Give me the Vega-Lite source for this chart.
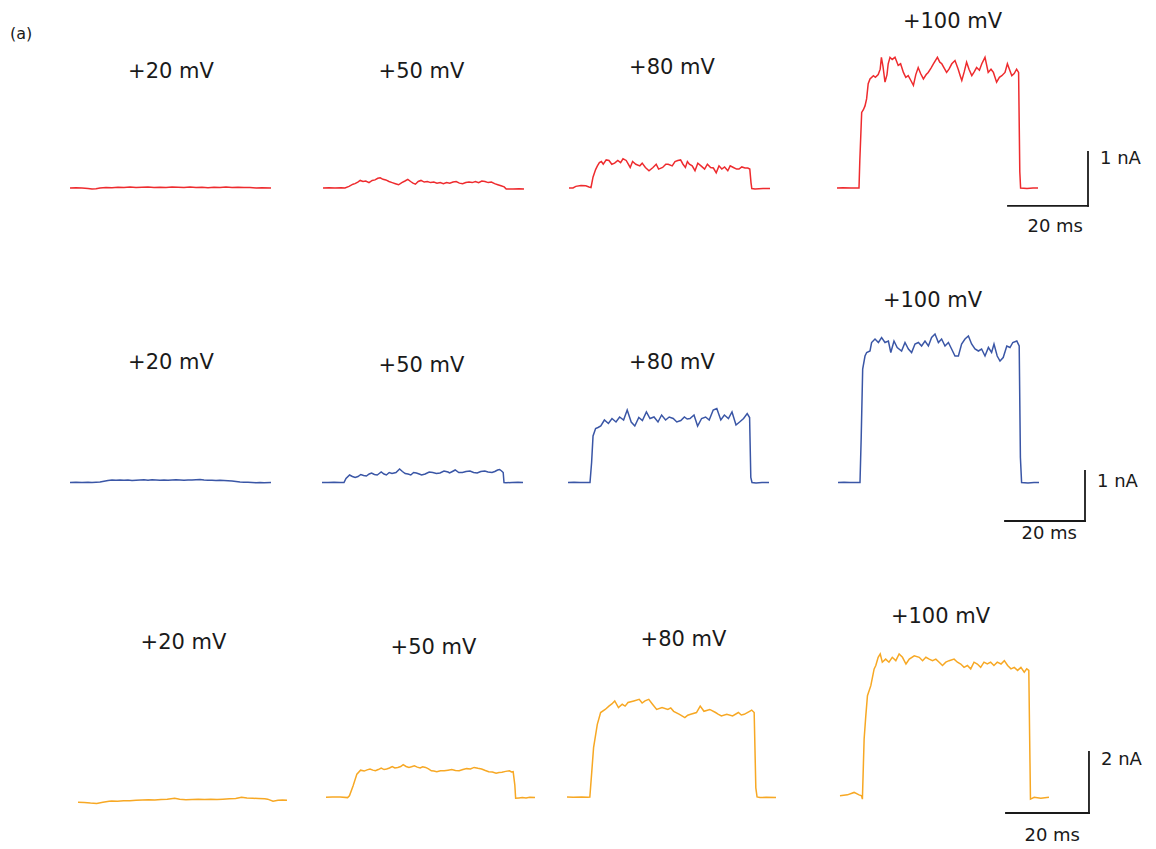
{
"$schema": "https://vega.github.io/schema/vega-lite/v6.json",
"background": "white",
"padding": {"left": 10, "top": 11, "right": 5, "bottom": 5},
"title": {"text": "(a)", "anchor": "start", "fontSize": 16, "font": "DejaVu Sans", "fontWeight": "normal", "color": "#1a1a1a", "dx": -40, "offset": -39, "baseline": "middle"},
"config": {"view": {"stroke": null}, "title": {"font": "DejaVu Sans", "fontSize": 21, "fontWeight": "normal", "color": "#1a1a1a", "baseline": "middle", "offset": 0}},
"datasets": {
"r1a": [{"t":-5.5,"i":0},{"t":-4,"i":0.005},{"t":-2.5,"i":0},{"t":-1,"i":-0.01},{"t":0,"i":-0.02},{"t":1,"i":-0.015},{"t":2,"i":0},{"t":3.5,"i":0.01},{"t":5,"i":0.005},{"t":6.5,"i":0.015},{"t":8,"i":0.01},{"t":9.5,"i":0.02},{"t":11,"i":0.01},{"t":12.5,"i":0.015},{"t":14,"i":0.02},{"t":15.5,"i":0.01},{"t":17,"i":0.015},{"t":18.5,"i":0.01},{"t":20,"i":0.02},{"t":21.5,"i":0.015},{"t":23,"i":0.01},{"t":24.5,"i":0.02},{"t":26,"i":0.01},{"t":27.5,"i":0.015},{"t":29,"i":0.005},{"t":30.5,"i":0.015},{"t":32,"i":0.01},{"t":33.5,"i":0.02},{"t":35,"i":0.01},{"t":36.5,"i":0.015},{"t":38,"i":0.01},{"t":39.5,"i":0.01},{"t":41,"i":0},{"t":42.5,"i":0.005},{"t":44.75,"i":0}],
"r1b": [{"t":-5.5,"i":0},{"t":-4,"i":0.005},{"t":-2.5,"i":0},{"t":-1,"i":0.005},{"t":0,"i":0},{"t":1,"i":0.03},{"t":2,"i":0.07},{"t":2.5,"i":0.08},{"t":3.2,"i":0.11},{"t":3.8,"i":0.14},{"t":4.5,"i":0.12},{"t":5.2,"i":0.13},{"t":6,"i":0.1},{"t":6.8,"i":0.14},{"t":7.5,"i":0.15},{"t":8.2,"i":0.18},{"t":8.8,"i":0.19},{"t":9.5,"i":0.16},{"t":10.2,"i":0.15},{"t":11,"i":0.12},{"t":11.8,"i":0.1},{"t":12.6,"i":0.08},{"t":13.4,"i":0.06},{"t":14.2,"i":0.1},{"t":15,"i":0.13},{"t":15.7,"i":0.16},{"t":16.4,"i":0.12},{"t":17,"i":0.09},{"t":17.6,"i":0.07},{"t":18.3,"i":0.12},{"t":19,"i":0.14},{"t":19.8,"i":0.11},{"t":20.6,"i":0.12},{"t":21.4,"i":0.1},{"t":22.2,"i":0.11},{"t":23,"i":0.09},{"t":23.8,"i":0.1},{"t":24.6,"i":0.08},{"t":25.4,"i":0.1},{"t":26.2,"i":0.09},{"t":27,"i":0.11},{"t":27.8,"i":0.12},{"t":28.6,"i":0.09},{"t":29.4,"i":0.08},{"t":30.2,"i":0.1},{"t":31,"i":0.11},{"t":31.8,"i":0.1},{"t":32.6,"i":0.12},{"t":33.4,"i":0.1},{"t":34.2,"i":0.13},{"t":35,"i":0.12},{"t":35.8,"i":0.1},{"t":36.6,"i":0.11},{"t":37.4,"i":0.08},{"t":38.2,"i":0.06},{"t":39,"i":0.04},{"t":39.8,"i":0.02},{"t":40.3,"i":-0.02},{"t":42,"i":-0.02},{"t":43.5,"i":-0.015},{"t":44.75,"i":-0.02}],
"r1c": [{"t":-5.5,"i":0},{"t":-4.5,"i":0},{"t":-3.8,"i":0.03},{"t":-2.5,"i":0.045},{"t":-1.3,"i":0.04},{"t":-0.5,"i":0.02},{"t":0,"i":0.01},{"t":0.5,"i":0.2},{"t":1.15,"i":0.34},{"t":1.6,"i":0.41},{"t":2.1,"i":0.47},{"t":2.6,"i":0.49},{"t":3.06,"i":0.44},{"t":3.8,"i":0.52},{"t":4.5,"i":0.51},{"t":5.2,"i":0.44},{"t":5.9,"i":0.46},{"t":6.7,"i":0.51},{"t":7.4,"i":0.47},{"t":8,"i":0.54},{"t":8.8,"i":0.51},{"t":9.8,"i":0.38},{"t":10.4,"i":0.49},{"t":11.2,"i":0.44},{"t":12.2,"i":0.41},{"t":12.8,"i":0.46},{"t":13.6,"i":0.38},{"t":14.5,"i":0.32},{"t":15.5,"i":0.38},{"t":16.3,"i":0.44},{"t":16.9,"i":0.35},{"t":17.9,"i":0.38},{"t":18.7,"i":0.44},{"t":19.3,"i":0.44},{"t":20.3,"i":0.41},{"t":21,"i":0.49},{"t":21.7,"i":0.51},{"t":22.4,"i":0.52},{"t":23,"i":0.44},{"t":23.6,"i":0.38},{"t":24.1,"i":0.49},{"t":24.6,"i":0.44},{"t":25.3,"i":0.41},{"t":26,"i":0.32},{"t":26.7,"i":0.46},{"t":27.5,"i":0.41},{"t":28.4,"i":0.35},{"t":29.1,"i":0.44},{"t":29.9,"i":0.38},{"t":30.6,"i":0.37},{"t":31.3,"i":0.28},{"t":32,"i":0.41},{"t":32.7,"i":0.35},{"t":33.4,"i":0.39},{"t":34.2,"i":0.32},{"t":34.8,"i":0.41},{"t":35.6,"i":0.38},{"t":36.4,"i":0.35},{"t":37,"i":0.35},{"t":37.7,"i":0.39},{"t":38.5,"i":0.37},{"t":39.2,"i":0.37},{"t":39.7,"i":0.35},{"t":40,"i":0.1},{"t":40.2,"i":-0.01},{"t":41,"i":-0.02},{"t":42,"i":-0.015},{"t":43,"i":-0.01},{"t":44.75,"i":-0.01}],
"r1d": [{"t":-5.5,"i":0},{"t":-4,"i":0.005},{"t":-2,"i":0},{"t":-0.5,"i":0},{"t":0,"i":0},{"t":0.2,"i":0.5},{"t":0.67,"i":1.4},{"t":1.1,"i":1.45},{"t":1.5,"i":1.52},{"t":1.9,"i":1.65},{"t":2.3,"i":1.93},{"t":2.75,"i":2.02},{"t":3.6,"i":2.08},{"t":4.1,"i":2.05},{"t":4.8,"i":2.1},{"t":5.3,"i":2.2},{"t":5.6,"i":2.42},{"t":6,"i":2.25},{"t":6.5,"i":1.96},{"t":7,"i":2.1},{"t":7.3,"i":2.3},{"t":7.75,"i":2.42},{"t":8.3,"i":2.38},{"t":9,"i":2.42},{"t":9.8,"i":2.27},{"t":10.4,"i":2.3},{"t":11.1,"i":2.14},{"t":11.7,"i":2.05},{"t":12.3,"i":2.08},{"t":12.9,"i":2.0},{"t":13.6,"i":1.9},{"t":14.2,"i":2.1},{"t":14.8,"i":2.23},{"t":15.4,"i":2.12},{"t":16.1,"i":2.02},{"t":16.8,"i":2.1},{"t":17.3,"i":2.14},{"t":18,"i":2.22},{"t":18.6,"i":2.3},{"t":19.6,"i":2.42},{"t":20.2,"i":2.33},{"t":20.7,"i":2.3},{"t":21.3,"i":2.22},{"t":21.9,"i":2.14},{"t":22.5,"i":2.2},{"t":23.2,"i":2.3},{"t":24,"i":2.36},{"t":24.8,"i":2.2},{"t":25.3,"i":2.08},{"t":25.7,"i":1.99},{"t":26.3,"i":2.15},{"t":26.9,"i":2.33},{"t":27.5,"i":2.2},{"t":28.2,"i":2.08},{"t":28.8,"i":2.15},{"t":29.4,"i":2.23},{"t":30.1,"i":2.18},{"t":30.7,"i":2.3},{"t":31.5,"i":2.42},{"t":32.3,"i":2.14},{"t":33,"i":2.2},{"t":33.6,"i":2.14},{"t":34.4,"i":1.96},{"t":35.1,"i":2.05},{"t":35.7,"i":2.08},{"t":36.5,"i":2.14},{"t":37.1,"i":2.3},{"t":37.6,"i":2.2},{"t":38.2,"i":2.08},{"t":38.8,"i":2.12},{"t":39.4,"i":2.2},{"t":39.9,"i":2.14},{"t":40.2,"i":0.3},{"t":40.4,"i":0},{"t":42,"i":-0.01},{"t":43.5,"i":0},{"t":44.75,"i":0}],
"r2a": [{"t":-5.5,"i":0},{"t":-4,"i":0.005},{"t":-2.5,"i":0},{"t":-1,"i":0.005},{"t":0,"i":0},{"t":1,"i":0.005},{"t":2,"i":0.01},{"t":3,"i":0.025},{"t":4,"i":0.04},{"t":5,"i":0.05},{"t":6,"i":0.045},{"t":7,"i":0.05},{"t":8,"i":0.045},{"t":9,"i":0.05},{"t":10,"i":0.04},{"t":11,"i":0.045},{"t":12,"i":0.05},{"t":13,"i":0.055},{"t":14,"i":0.045},{"t":15,"i":0.055},{"t":16,"i":0.05},{"t":17,"i":0.045},{"t":18,"i":0.05},{"t":19,"i":0.045},{"t":20,"i":0.05},{"t":21,"i":0.055},{"t":22,"i":0.05},{"t":23,"i":0.045},{"t":24,"i":0.05},{"t":25,"i":0.05},{"t":26,"i":0.055},{"t":27,"i":0.06},{"t":28,"i":0.05},{"t":29,"i":0.045},{"t":30,"i":0.045},{"t":31,"i":0.04},{"t":32,"i":0.045},{"t":33,"i":0.04},{"t":34,"i":0.035},{"t":35,"i":0.03},{"t":36,"i":0.02},{"t":37,"i":0.01},{"t":38,"i":0.005},{"t":39,"i":0.005},{"t":40,"i":0},{"t":41,"i":-0.005},{"t":42,"i":0},{"t":43,"i":-0.005},{"t":44.75,"i":0}],
"r2b": [{"t":-5.5,"i":0},{"t":-4,"i":0},{"t":-2.5,"i":0.005},{"t":-1,"i":0},{"t":0,"i":0},{"t":0.5,"i":0.08},{"t":1.4,"i":0.15},{"t":2.1,"i":0.12},{"t":2.8,"i":0.1},{"t":3.5,"i":0.12},{"t":4.2,"i":0.16},{"t":4.9,"i":0.14},{"t":5.6,"i":0.13},{"t":6.3,"i":0.17},{"t":6.9,"i":0.19},{"t":7.6,"i":0.16},{"t":8.3,"i":0.15},{"t":8.8,"i":0.18},{"t":9.3,"i":0.21},{"t":10,"i":0.17},{"t":10.6,"i":0.15},{"t":11.3,"i":0.2},{"t":12,"i":0.18},{"t":13,"i":0.2},{"t":13.9,"i":0.27},{"t":14.6,"i":0.22},{"t":15.3,"i":0.18},{"t":16,"i":0.17},{"t":16.7,"i":0.15},{"t":17.4,"i":0.2},{"t":18.1,"i":0.19},{"t":18.8,"i":0.17},{"t":19.4,"i":0.15},{"t":20.3,"i":0.17},{"t":21.3,"i":0.21},{"t":22.2,"i":0.2},{"t":23.1,"i":0.18},{"t":24,"i":0.19},{"t":25,"i":0.23},{"t":26,"i":0.21},{"t":26.4,"i":0.19},{"t":27.1,"i":0.22},{"t":27.8,"i":0.25},{"t":28.7,"i":0.2},{"t":29.6,"i":0.2},{"t":30.5,"i":0.22},{"t":31.5,"i":0.23},{"t":32.4,"i":0.2},{"t":33.3,"i":0.19},{"t":34.2,"i":0.22},{"t":35.2,"i":0.23},{"t":36,"i":0.21},{"t":37,"i":0.2},{"t":37.7,"i":0.22},{"t":38.4,"i":0.25},{"t":38.9,"i":0.26},{"t":39.4,"i":0.23},{"t":39.8,"i":0.2},{"t":40,"i":0},{"t":40.5,"i":-0.005},{"t":42,"i":0},{"t":43.5,"i":0.005},{"t":44.75,"i":0}],
"r2c": [{"t":-5.5,"i":0},{"t":-4,"i":0.005},{"t":-2.5,"i":0},{"t":-1,"i":0},{"t":0,"i":0},{"t":0.4,"i":0.4},{"t":0.76,"i":0.93},{"t":1.4,"i":1.08},{"t":2,"i":1.1},{"t":2.7,"i":1.13},{"t":3.6,"i":1.25},{"t":4.6,"i":1.18},{"t":5.5,"i":1.28},{"t":6.5,"i":1.21},{"t":7.4,"i":1.31},{"t":8.4,"i":1.25},{"t":9.3,"i":1.45},{"t":10.3,"i":1.21},{"t":11.2,"i":1.13},{"t":12.2,"i":1.3},{"t":13.1,"i":1.24},{"t":14.1,"i":1.41},{"t":15,"i":1.28},{"t":16,"i":1.31},{"t":17,"i":1.21},{"t":17.9,"i":1.35},{"t":18.9,"i":1.25},{"t":19.8,"i":1.31},{"t":20.8,"i":1.28},{"t":21.7,"i":1.21},{"t":22.7,"i":1.24},{"t":23.6,"i":1.31},{"t":24.3,"i":1.27},{"t":25,"i":1.28},{"t":26,"i":1.35},{"t":26.9,"i":1.13},{"t":27.9,"i":1.28},{"t":28.9,"i":1.31},{"t":29.8,"i":1.25},{"t":30.8,"i":1.45},{"t":31.7,"i":1.48},{"t":32.7,"i":1.25},{"t":33.6,"i":1.35},{"t":34.6,"i":1.28},{"t":35.5,"i":1.41},{"t":36.5,"i":1.15},{"t":37.4,"i":1.21},{"t":38.4,"i":1.28},{"t":39.3,"i":1.38},{"t":39.9,"i":1.3},{"t":40.2,"i":0.1},{"t":40.5,"i":0},{"t":41.5,"i":-0.01},{"t":43,"i":0},{"t":44.75,"i":0}],
"r2d": [{"t":-5.5,"i":0},{"t":-4,"i":0.005},{"t":-2.5,"i":0},{"t":-1,"i":0},{"t":0,"i":0},{"t":0.3,"i":0.9},{"t":0.67,"i":2.27},{"t":1.25,"i":2.53},{"t":1.67,"i":2.6},{"t":2.5,"i":2.63},{"t":2.9,"i":2.8},{"t":3.75,"i":2.87},{"t":4.6,"i":2.8},{"t":5.4,"i":2.9},{"t":6.25,"i":2.8},{"t":7.1,"i":2.83},{"t":7.7,"i":2.6},{"t":8.5,"i":2.83},{"t":9.3,"i":2.7},{"t":10.4,"i":2.63},{"t":11.25,"i":2.8},{"t":12.1,"i":2.67},{"t":12.9,"i":2.6},{"t":13.75,"i":2.77},{"t":14.6,"i":2.8},{"t":15.4,"i":2.73},{"t":16.25,"i":2.83},{"t":17.1,"i":2.73},{"t":17.9,"i":2.9},{"t":18.75,"i":2.97},{"t":19.6,"i":2.8},{"t":20.4,"i":2.87},{"t":21.25,"i":2.73},{"t":22.1,"i":2.8},{"t":22.9,"i":2.67},{"t":23.75,"i":2.53},{"t":24.6,"i":2.53},{"t":25.4,"i":2.77},{"t":26.25,"i":2.87},{"t":27.1,"i":2.93},{"t":27.9,"i":2.77},{"t":28.75,"i":2.67},{"t":29.6,"i":2.63},{"t":30.4,"i":2.67},{"t":31.25,"i":2.53},{"t":32.1,"i":2.7},{"t":32.9,"i":2.6},{"t":33.5,"i":2.77},{"t":34.3,"i":2.53},{"t":35,"i":2.43},{"t":35.8,"i":2.5},{"t":36.7,"i":2.73},{"t":37.5,"i":2.7},{"t":38.2,"i":2.8},{"t":39.2,"i":2.83},{"t":39.8,"i":2.73},{"t":40.1,"i":0.5},{"t":40.4,"i":0},{"t":42,"i":-0.01},{"t":43.5,"i":0},{"t":44.75,"i":0}],
"r3a": [{"t":-5.5,"i":-0.17},{"t":-4,"i":-0.18},{"t":-2.5,"i":-0.2},{"t":-1,"i":-0.21},{"t":0.5,"i":-0.17},{"t":2,"i":-0.14},{"t":2.6,"i":-0.13},{"t":4,"i":-0.14},{"t":5.5,"i":-0.12},{"t":7,"i":-0.12},{"t":8.5,"i":-0.11},{"t":10,"i":-0.1},{"t":11.5,"i":-0.09},{"t":13,"i":-0.1},{"t":14.5,"i":-0.08},{"t":16,"i":-0.07},{"t":17.8,"i":-0.04},{"t":19,"i":-0.07},{"t":20.5,"i":-0.09},{"t":22,"i":-0.08},{"t":23.5,"i":-0.07},{"t":25,"i":-0.08},{"t":26.5,"i":-0.07},{"t":28,"i":-0.08},{"t":29.4,"i":-0.07},{"t":31,"i":-0.06},{"t":32.5,"i":-0.05},{"t":33.9,"i":-0.01},{"t":35.2,"i":-0.03},{"t":36.6,"i":-0.04},{"t":38,"i":-0.05},{"t":39.5,"i":-0.06},{"t":40.2,"i":-0.07},{"t":41.5,"i":-0.14},{"t":42.7,"i":-0.11},{"t":43.8,"i":-0.1},{"t":44.86,"i":-0.11}],
"r3b": [{"t":-5.5,"i":-0.01},{"t":-4,"i":0},{"t":-2.1,"i":0},{"t":-0.3,"i":-0.02},{"t":0.15,"i":0.04},{"t":1.04,"i":0.37},{"t":1.94,"i":0.75},{"t":2.83,"i":0.88},{"t":3.7,"i":0.85},{"t":4.4,"i":0.89},{"t":5.1,"i":0.92},{"t":5.8,"i":0.88},{"t":6.4,"i":0.86},{"t":7.1,"i":0.9},{"t":7.8,"i":0.95},{"t":8.5,"i":0.9},{"t":9.1,"i":0.92},{"t":9.8,"i":0.95},{"t":10.45,"i":1.0},{"t":11.1,"i":0.95},{"t":11.8,"i":0.97},{"t":12.5,"i":1.0},{"t":13.1,"i":1.06},{"t":13.8,"i":1.0},{"t":14.5,"i":0.97},{"t":15.1,"i":0.99},{"t":15.8,"i":1.02},{"t":16.5,"i":0.98},{"t":17.2,"i":0.95},{"t":17.8,"i":0.99},{"t":18.5,"i":0.97},{"t":19.2,"i":0.92},{"t":19.9,"i":0.86},{"t":20.5,"i":0.85},{"t":21.2,"i":0.83},{"t":22.1,"i":0.86},{"t":23,"i":0.86},{"t":23.9,"i":0.88},{"t":24.8,"i":0.9},{"t":25.7,"i":0.87},{"t":26.6,"i":0.86},{"t":27.5,"i":0.9},{"t":28.4,"i":0.93},{"t":29.3,"i":0.92},{"t":30.2,"i":0.97},{"t":31.1,"i":0.94},{"t":32,"i":0.92},{"t":32.9,"i":0.87},{"t":33.7,"i":0.83},{"t":34.6,"i":0.82},{"t":35.5,"i":0.78},{"t":36.2,"i":0.8},{"t":36.9,"i":0.81},{"t":37.8,"i":0.84},{"t":38.7,"i":0.86},{"t":39.2,"i":0.82},{"t":39.6,"i":0.83},{"t":40,"i":0.4},{"t":40.2,"i":-0.04},{"t":41,"i":-0.03},{"t":41.8,"i":-0.02},{"t":42.7,"i":-0.03},{"t":43.6,"i":-0.01},{"t":44.86,"i":-0.02}],
"r3c": [{"t":-5.5,"i":0},{"t":-4,"i":-0.01},{"t":-2,"i":0},{"t":-0.5,"i":-0.01},{"t":0,"i":0},{"t":0.45,"i":0.8},{"t":0.9,"i":1.62},{"t":1.8,"i":2.38},{"t":2.6,"i":2.77},{"t":3.7,"i":2.87},{"t":4.6,"i":2.98},{"t":5.3,"i":3.05},{"t":6,"i":3.15},{"t":6.9,"i":2.93},{"t":7.8,"i":3.04},{"t":8.5,"i":2.98},{"t":9.2,"i":3.1},{"t":10.6,"i":3.15},{"t":11.9,"i":3.2},{"t":12.6,"i":3.08},{"t":13.3,"i":3.15},{"t":14.2,"i":3.2},{"t":15.1,"i":3.04},{"t":16.1,"i":2.87},{"t":17.4,"i":2.93},{"t":18.8,"i":2.87},{"t":19.5,"i":2.92},{"t":20.2,"i":2.81},{"t":21.6,"i":2.71},{"t":22.9,"i":2.6},{"t":23.6,"i":2.68},{"t":24.3,"i":2.71},{"t":25.7,"i":2.77},{"t":26.6,"i":2.98},{"t":27.5,"i":2.81},{"t":28.9,"i":2.87},{"t":30.3,"i":2.77},{"t":30.9,"i":2.72},{"t":31.7,"i":2.66},{"t":33,"i":2.71},{"t":34.4,"i":2.66},{"t":35.8,"i":2.77},{"t":36.5,"i":2.69},{"t":37.2,"i":2.71},{"t":38.5,"i":2.81},{"t":39,"i":2.85},{"t":39.6,"i":2.77},{"t":40,"i":0.3},{"t":40.3,"i":0},{"t":41,"i":-0.02},{"t":42.5,"i":-0.01},{"t":44.86,"i":-0.02}],
"r3d": [{"t":-5.5,"i":0.04},{"t":-3.7,"i":0.07},{"t":-2.1,"i":0.15},{"t":-0.9,"i":0.07},{"t":-0.3,"i":0.04},{"t":-0.1,"i":-0.07},{"t":0.32,"i":1.9},{"t":0.72,"i":2.66},{"t":1.12,"i":3.32},{"t":1.93,"i":3.65},{"t":2.73,"i":4.2},{"t":3.13,"i":4.31},{"t":3.7,"i":4.58},{"t":4.2,"i":4.69},{"t":4.7,"i":4.42},{"t":5.5,"i":4.52},{"t":6.3,"i":4.42},{"t":7.1,"i":4.58},{"t":7.95,"i":4.47},{"t":8.75,"i":4.69},{"t":9.56,"i":4.58},{"t":10.4,"i":4.36},{"t":11.2,"i":4.52},{"t":12.4,"i":4.63},{"t":13.6,"i":4.58},{"t":14.4,"i":4.47},{"t":15.2,"i":4.58},{"t":16,"i":4.52},{"t":16.8,"i":4.47},{"t":17.6,"i":4.52},{"t":18.4,"i":4.42},{"t":19.2,"i":4.31},{"t":20,"i":4.42},{"t":20.8,"i":4.47},{"t":22,"i":4.52},{"t":22.8,"i":4.42},{"t":23.6,"i":4.36},{"t":24.4,"i":4.25},{"t":25.2,"i":4.31},{"t":26,"i":4.2},{"t":26.8,"i":4.42},{"t":27.6,"i":4.36},{"t":28.4,"i":4.25},{"t":29.2,"i":4.42},{"t":30,"i":4.36},{"t":30.8,"i":4.42},{"t":31.6,"i":4.31},{"t":32.4,"i":4.42},{"t":33.3,"i":4.36},{"t":34.1,"i":4.47},{"t":34.9,"i":4.31},{"t":35.7,"i":4.2},{"t":36.5,"i":4.25},{"t":37.3,"i":4.15},{"t":38.1,"i":4.25},{"t":38.9,"i":4.09},{"t":39.5,"i":4.2},{"t":40,"i":4.15},{"t":40.2,"i":2},{"t":40.4,"i":-0.07},{"t":41.3,"i":-0.01},{"t":42.9,"i":-0.04},{"t":44.86,"i":-0.01}],
"sb1": [{"t0":37.25,"t1":57.25,"i0":-0.333,"i1":0.667,"tl":"20 ms","il":"1 nA"}],
"sb2": [{"t0":36.25,"t1":56.25,"i0":-0.77,"i1":0.23,"tl":"20 ms","il":"1 nA"}],
"sb3": [{"t0":34.5,"t1":54.5,"i0":-0.525,"i1":1.475,"tl":"20 ms","il":"2 nA"}]
},
"bounds": "flush",
"columns": 4,
"spacing": {"row": 0, "column": 0},
"concat": [
{"width": 255, "height": 280, "data": {"name": "r1a"}, "title": {"text": "+20 mV", "dx": -6.5, "dy": 47},
 "mark": {"type": "line", "color": "#ee2b2e", "strokeWidth": 1.5},
 "encoding": {"x": {"field": "t", "type": "quantitative", "scale": {"domain": [-10.5, 53.25], "nice": false, "zero": false}, "axis": null}, "y": {"field": "i", "type": "quantitative", "scale": {"domain": [-2.426, 2.759], "nice": false, "zero": false}, "axis": null}}},
{"width": 255, "height": 280, "data": {"name": "r1b"}, "title": {"text": "+50 mV", "dx": -11, "dy": 47},
 "mark": {"type": "line", "color": "#ee2b2e", "strokeWidth": 1.5},
 "encoding": {"x": {"field": "t", "type": "quantitative", "scale": {"domain": [-10, 53.75], "nice": false, "zero": false}, "axis": null}, "y": {"field": "i", "type": "quantitative", "scale": {"domain": [-2.426, 2.759], "nice": false, "zero": false}, "axis": null}}},
{"width": 255, "height": 280, "data": {"name": "r1c"}, "title": {"text": "+80 mV", "dx": -15.5, "dy": 43},
 "mark": {"type": "line", "color": "#ee2b2e", "strokeWidth": 1.5},
 "encoding": {"x": {"field": "t", "type": "quantitative", "scale": {"domain": [-7.75, 56], "nice": false, "zero": false}, "axis": null}, "y": {"field": "i", "type": "quantitative", "scale": {"domain": [-2.426, 2.759], "nice": false, "zero": false}, "axis": null}}},
{"width": 310, "height": 280, "title": {"text": "+100 mV", "dx": -17.5, "dy": -3},
 "layer": [
  {"data": {"name": "r1d"}, "mark": {"type": "line", "color": "#ee2b2e", "strokeWidth": 1.5},
   "encoding": {"x": {"field": "t", "type": "quantitative", "scale": {"domain": [-11, 66.5], "nice": false, "zero": false}, "axis": null}, "y": {"field": "i", "type": "quantitative", "scale": {"domain": [-2.426, 2.759], "nice": false, "zero": false}, "axis": null}}},
  {"data": {"name": "sb1"}, "mark": {"type": "rule", "color": "#1a1a1a", "strokeWidth": 1.8, "strokeCap": "square"},
   "encoding": {"x": {"field": "t0", "type": "quantitative", "scale": {"domain": [-11, 66.5], "nice": false, "zero": false}, "axis": null}, "x2": {"field": "t1"}, "y": {"field": "i0", "type": "quantitative", "scale": {"domain": [-2.426, 2.759], "nice": false, "zero": false}, "axis": null}}},
  {"data": {"name": "sb1"}, "mark": {"type": "rule", "color": "#1a1a1a", "strokeWidth": 1.8, "strokeCap": "square"},
   "encoding": {"x": {"field": "t1", "type": "quantitative", "scale": {"domain": [-11, 66.5], "nice": false, "zero": false}, "axis": null}, "y": {"field": "i0", "type": "quantitative", "scale": {"domain": [-2.426, 2.759], "nice": false, "zero": false}, "axis": null}, "y2": {"field": "i1"}}},
  {"data": {"name": "sb1"}, "mark": {"type": "text", "align": "left", "baseline": "middle", "dx": 12, "dy": 7, "fontSize": 18, "font": "DejaVu Sans", "color": "#1a1a1a"},
   "encoding": {"x": {"field": "t1", "type": "quantitative", "scale": {"domain": [-11, 66.5], "nice": false, "zero": false}, "axis": null}, "y": {"field": "i1", "type": "quantitative", "scale": {"domain": [-2.426, 2.759], "nice": false, "zero": false}, "axis": null}, "text": {"field": "il"}}},
  {"data": {"name": "sb1"}, "mark": {"type": "text", "align": "right", "baseline": "middle", "dx": -5, "dy": 21, "fontSize": 18, "font": "DejaVu Sans", "color": "#1a1a1a"},
   "encoding": {"x": {"field": "t1", "type": "quantitative", "scale": {"domain": [-11, 66.5], "nice": false, "zero": false}, "axis": null}, "y": {"field": "i0", "type": "quantitative", "scale": {"domain": [-2.426, 2.759], "nice": false, "zero": false}, "axis": null}, "text": {"field": "tl"}}}
 ]},
{"width": 255, "height": 315, "data": {"name": "r2a"}, "title": {"text": "+20 mV", "dx": -6.5, "dy": 58},
 "mark": {"type": "line", "color": "#3a56a6", "strokeWidth": 1.5},
 "encoding": {"x": {"field": "t", "type": "quantitative", "scale": {"domain": [-10.5, 53.25], "nice": false, "zero": false}, "axis": null}, "y": {"field": "i", "type": "quantitative", "scale": {"domain": [-3.03, 3.27], "nice": false, "zero": false}, "axis": null}}},
{"width": 255, "height": 315, "data": {"name": "r2b"}, "title": {"text": "+50 mV", "dx": -11, "dy": 61},
 "mark": {"type": "line", "color": "#3a56a6", "strokeWidth": 1.5},
 "encoding": {"x": {"field": "t", "type": "quantitative", "scale": {"domain": [-9.75, 54], "nice": false, "zero": false}, "axis": null}, "y": {"field": "i", "type": "quantitative", "scale": {"domain": [-3.03, 3.27], "nice": false, "zero": false}, "axis": null}}},
{"width": 255, "height": 315, "data": {"name": "r2c"}, "title": {"text": "+80 mV", "dx": -15.5, "dy": 58},
 "mark": {"type": "line", "color": "#3a56a6", "strokeWidth": 1.5},
 "encoding": {"x": {"field": "t", "type": "quantitative", "scale": {"domain": [-7.5, 56.25], "nice": false, "zero": false}, "axis": null}, "y": {"field": "i", "type": "quantitative", "scale": {"domain": [-3.03, 3.27], "nice": false, "zero": false}, "axis": null}}},
{"width": 310, "height": 315, "title": {"text": "+100 mV", "dx": -37.5, "dy": -4},
 "layer": [
  {"data": {"name": "r2d"}, "mark": {"type": "line", "color": "#3a56a6", "strokeWidth": 1.5},
   "encoding": {"x": {"field": "t", "type": "quantitative", "scale": {"domain": [-11.25, 66.25], "nice": false, "zero": false}, "axis": null}, "y": {"field": "i", "type": "quantitative", "scale": {"domain": [-3.03, 3.27], "nice": false, "zero": false}, "axis": null}}},
  {"data": {"name": "sb2"}, "mark": {"type": "rule", "color": "#1a1a1a", "strokeWidth": 1.8, "strokeCap": "square"},
   "encoding": {"x": {"field": "t0", "type": "quantitative", "scale": {"domain": [-11.25, 66.25], "nice": false, "zero": false}, "axis": null}, "x2": {"field": "t1"}, "y": {"field": "i0", "type": "quantitative", "scale": {"domain": [-3.03, 3.27], "nice": false, "zero": false}, "axis": null}}},
  {"data": {"name": "sb2"}, "mark": {"type": "rule", "color": "#1a1a1a", "strokeWidth": 1.8, "strokeCap": "square"},
   "encoding": {"x": {"field": "t1", "type": "quantitative", "scale": {"domain": [-11.25, 66.25], "nice": false, "zero": false}, "axis": null}, "y": {"field": "i0", "type": "quantitative", "scale": {"domain": [-3.03, 3.27], "nice": false, "zero": false}, "axis": null}, "y2": {"field": "i1"}}},
  {"data": {"name": "sb2"}, "mark": {"type": "text", "align": "left", "baseline": "middle", "dx": 12, "dy": 11, "fontSize": 18, "font": "DejaVu Sans", "color": "#1a1a1a"},
   "encoding": {"x": {"field": "t1", "type": "quantitative", "scale": {"domain": [-11.25, 66.25], "nice": false, "zero": false}, "axis": null}, "y": {"field": "i1", "type": "quantitative", "scale": {"domain": [-3.03, 3.27], "nice": false, "zero": false}, "axis": null}, "text": {"field": "il"}}},
  {"data": {"name": "sb2"}, "mark": {"type": "text", "align": "right", "baseline": "middle", "dx": -8, "dy": 13, "fontSize": 18, "font": "DejaVu Sans", "color": "#1a1a1a"},
   "encoding": {"x": {"field": "t1", "type": "quantitative", "scale": {"domain": [-11.25, 66.25], "nice": false, "zero": false}, "axis": null}, "y": {"field": "i0", "type": "quantitative", "scale": {"domain": [-3.03, 3.27], "nice": false, "zero": false}, "axis": null}, "text": {"field": "tl"}}}
 ]},
{"width": 255, "height": 182, "data": {"name": "r3a"}, "title": {"text": "+20 mV", "dx": 6, "dy": 23},
 "mark": {"type": "line", "color": "#f7a824", "strokeWidth": 1.5},
 "encoding": {"x": {"field": "t", "type": "quantitative", "scale": {"domain": [-12.25, 49.2], "nice": false, "zero": false}, "axis": null}, "y": {"field": "i", "type": "quantitative", "scale": {"domain": [-0.623, 5.344], "nice": false, "zero": false}, "axis": null}}},
{"width": 255, "height": 182, "data": {"name": "r3b"}, "title": {"text": "+50 mV", "dx": 1, "dy": 28},
 "mark": {"type": "line", "color": "#f7a824", "strokeWidth": 1.5},
 "encoding": {"x": {"field": "t", "type": "quantitative", "scale": {"domain": [-10.56, 50.89], "nice": false, "zero": false}, "axis": null}, "y": {"field": "i", "type": "quantitative", "scale": {"domain": [-0.623, 5.344], "nice": false, "zero": false}, "axis": null}}},
{"width": 255, "height": 182, "data": {"name": "r3c"}, "title": {"text": "+80 mV", "dx": -4, "dy": 20},
 "mark": {"type": "line", "color": "#f7a824", "strokeWidth": 1.5},
 "encoding": {"x": {"field": "t", "type": "quantitative", "scale": {"domain": [-7.19, 54.26], "nice": false, "zero": false}, "axis": null}, "y": {"field": "i", "type": "quantitative", "scale": {"domain": [-0.623, 5.344], "nice": false, "zero": false}, "axis": null}}},
{"width": 310, "height": 182, "title": {"text": "+100 mV", "dx": -29.5, "dy": -3},
 "layer": [
  {"data": {"name": "r3d"}, "mark": {"type": "line", "color": "#f7a824", "strokeWidth": 1.5},
   "encoding": {"x": {"field": "t", "type": "quantitative", "scale": {"domain": [-11.52, 63.18], "nice": false, "zero": false}, "axis": null}, "y": {"field": "i", "type": "quantitative", "scale": {"domain": [-0.623, 5.344], "nice": false, "zero": false}, "axis": null}}},
  {"data": {"name": "sb3"}, "mark": {"type": "rule", "color": "#1a1a1a", "strokeWidth": 1.8, "strokeCap": "square"},
   "encoding": {"x": {"field": "t0", "type": "quantitative", "scale": {"domain": [-11.52, 63.18], "nice": false, "zero": false}, "axis": null}, "x2": {"field": "t1"}, "y": {"field": "i0", "type": "quantitative", "scale": {"domain": [-0.623, 5.344], "nice": false, "zero": false}, "axis": null}}},
  {"data": {"name": "sb3"}, "mark": {"type": "rule", "color": "#1a1a1a", "strokeWidth": 1.8, "strokeCap": "square"},
   "encoding": {"x": {"field": "t1", "type": "quantitative", "scale": {"domain": [-11.52, 63.18], "nice": false, "zero": false}, "axis": null}, "y": {"field": "i0", "type": "quantitative", "scale": {"domain": [-0.623, 5.344], "nice": false, "zero": false}, "axis": null}, "y2": {"field": "i1"}}},
  {"data": {"name": "sb3"}, "mark": {"type": "text", "align": "left", "baseline": "middle", "dx": 12, "dy": 8, "fontSize": 18, "font": "DejaVu Sans", "color": "#1a1a1a"},
   "encoding": {"x": {"field": "t1", "type": "quantitative", "scale": {"domain": [-11.52, 63.18], "nice": false, "zero": false}, "axis": null}, "y": {"field": "i1", "type": "quantitative", "scale": {"domain": [-0.623, 5.344], "nice": false, "zero": false}, "axis": null}, "text": {"field": "il"}}},
  {"data": {"name": "sb3"}, "mark": {"type": "text", "align": "right", "baseline": "middle", "dx": -9, "dy": 23, "fontSize": 18, "font": "DejaVu Sans", "color": "#1a1a1a"},
   "encoding": {"x": {"field": "t1", "type": "quantitative", "scale": {"domain": [-11.52, 63.18], "nice": false, "zero": false}, "axis": null}, "y": {"field": "i0", "type": "quantitative", "scale": {"domain": [-0.623, 5.344], "nice": false, "zero": false}, "axis": null}, "text": {"field": "tl"}}}
 ]}
]
}
